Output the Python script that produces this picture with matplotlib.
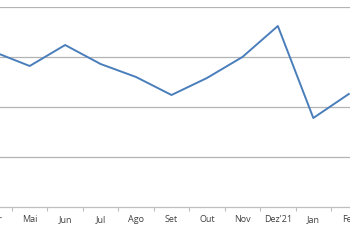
import numpy as np
import matplotlib.pyplot as plt

months = ['Abr', 'Mai', 'Jun', 'Jul', 'Ago', 'Set', 'Out', 'Nov', "Dez'21", 'Jan', 'Fev']
values = [3.10, 2.82, 3.24, 2.86, 2.60, 2.24, 2.58, 3.00, 3.62, 1.78, 2.26]

fig = plt.figure(figsize=(3.5, 2.5), dpi=100)
# plot area is wider than the picture (chart was cropped on both sides)
ax = fig.add_axes([-23.5 / 350, 43 / 250, 390 / 350, 200 / 250])

x = np.arange(len(months))
ax.plot(x, values, color='#4a7ebb', linewidth=1.4, solid_joinstyle='round')

ax.set_xlim(-0.5, len(months) - 0.5)
ax.set_ylim(0, 4)
ax.set_yticks([1, 2, 3, 4])
ax.yaxis.grid(True, color='#b3b3b3', linewidth=0.9)
ax.tick_params(axis='y', length=0, labelleft=False)

ax.set_xticks(x)
ax.set_xticklabels(months, fontsize=6.5, color='#404040', family='Open Sans')
ax.set_xticks(np.arange(len(months) + 1) - 0.5, minor=True)
ax.tick_params(axis='x', which='major', length=0, pad=6)
ax.tick_params(axis='x', which='minor', length=3, color='#bfbfbf', width=0.8)

for s in ['top', 'left', 'right']:
    ax.spines[s].set_visible(False)
ax.spines['bottom'].set_color('#bfbfbf')
ax.spines['bottom'].set_linewidth(0.9)
ax.set_axisbelow(True)

fig.savefig('out.png', dpi=100)
